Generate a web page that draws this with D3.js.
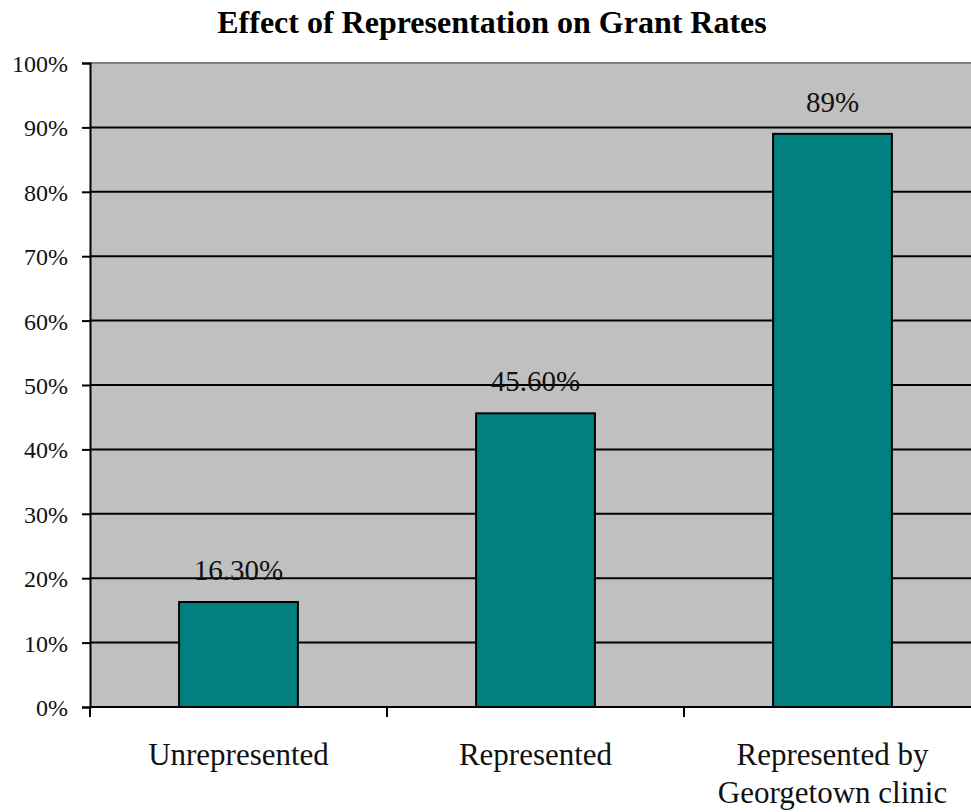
<!DOCTYPE html>
<html>
<head>
<meta charset="utf-8">
<script src="https://cdn.jsdelivr.net/npm/d3@7"></script>
<style>
  body { margin: 0; background: #fff; }
  svg { display: block; font-family: "Liberation Serif", "Times New Roman", serif; }
</style>
</head>
<body>
<svg></svg>
<script>
let categories = [["Unrepresented"], ["Represented"], ["Represented by", "Georgetown clinic"]]
let values = [0.163, 0.456, 0.89]
let valueLabels = ["16.30%", "45.60%", "89%"]
let yTicks = [0, 0.1, 0.2, 0.3, 0.4, 0.5, 0.6, 0.7, 0.8, 0.9, 1.0]
let title = "Effect of Representation on Grant Rates"

let width = 971
let height = 812
let plotLeft = 90, plotTop = 63, plotBottom = 707, plotRight = 981
let serif = '"Liberation Serif", "Times New Roman", serif'

let svg = d3.select('svg').attr('width', width).attr('height', height)

let keys = categories.map((c) => c.join(' '))

let xBand = d3.scaleBand().domain(keys).range([plotLeft, plotRight]).paddingInner(0).paddingOuter(0)
let xBar = d3.scaleBand().domain(keys).range([plotLeft, plotRight]).paddingInner(0.6).paddingOuter(0.3)
let yScale = d3.scaleLinear().domain([0, 1]).range([plotBottom, plotTop])

// plot background
svg.append('rect')
    .attr('x', plotLeft).attr('y', plotTop)
    .attr('width', plotRight - plotLeft).attr('height', plotBottom - plotTop)
    .attr('fill', '#c0c0c0')

// grid lines
svg.append('g')
    .selectAll('line')
    .data(yTicks.filter((t) => t > 0 && t < 1))
    .enter()
    .append('line')
    .attr('x1', plotLeft).attr('x2', plotRight)
    .attr('y1', (d) => yScale(d)).attr('y2', (d) => yScale(d))
    .attr('stroke', '#000').attr('stroke-width', 2)

// top border
svg.append('line')
    .attr('x1', plotLeft).attr('x2', plotRight)
    .attr('y1', yScale(1)).attr('y2', yScale(1))
    .attr('stroke', '#808080').attr('stroke-width', 2)

// bars
svg.append('g')
    .selectAll('rect')
    .data(values)
    .enter()
    .append('rect')
    .attr('x', (d, i) => xBar(keys[i]))
    .attr('width', xBar.bandwidth())
    .attr('y', (d) => yScale(d))
    .attr('height', (d) => yScale(0) - yScale(d))
    .attr('fill', '#008080')
    .attr('stroke', '#000').attr('stroke-width', 2)

// value labels
svg.append('g')
    .selectAll('text')
    .data(values)
    .enter()
    .append('text')
    .attr('x', (d, i) => xBar(keys[i]) + xBar.bandwidth() / 2)
    .attr('y', (d) => yScale(d) - 22)
    .attr('text-anchor', 'middle')
    .attr('font-family', serif)
    .attr('font-size', 29)
    .attr('fill', '#111')
    .text((d, i) => valueLabels[i])

// y axis
let yAxis = d3.axisLeft(yScale)
    .tickValues(yTicks)
    .tickFormat(d3.format('.0%'))
    .tickSize(8)
    .tickPadding(14)
let yG = svg.append('g')
    .attr('transform', 'translate(' + plotLeft + ',0)')
    .call(yAxis)
    .attr('font-family', serif)
    .attr('font-size', 24)
yG.select('.domain').attr('stroke', '#000').attr('stroke-width', 2)
yG.selectAll('.tick line').attr('stroke', '#000').attr('stroke-width', 2)
yG.selectAll('.tick text')
    .attr('fill', '#111')
    .attr('dy', '0.35em')

// x axis line and category ticks
svg.append('line')
    .attr('x1', plotLeft).attr('x2', plotRight)
    .attr('y1', plotBottom).attr('y2', plotBottom)
    .attr('stroke', '#000').attr('stroke-width', 2)

svg.append('g')
    .selectAll('line')
    .data(keys.map((k) => xBand(k)).concat([plotRight]))
    .enter()
    .append('line')
    .attr('x1', (d) => d).attr('x2', (d) => d)
    .attr('y1', plotBottom).attr('y2', plotBottom + 10)
    .attr('stroke', '#000').attr('stroke-width', 2)

// category labels
let catG = svg.append('g')
categories.forEach((lines, i) => {
    let t = catG.append('text')
        .attr('x', xBand(keys[i]) + xBand.bandwidth() / 2)
        .attr('y', 765)
        .attr('text-anchor', 'middle')
        .attr('font-family', serif)
        .attr('font-size', 31)
        .attr('fill', '#111')
    lines.forEach((ln, j) => {
        t.append('tspan')
            .attr('x', xBand(keys[i]) + xBand.bandwidth() / 2)
            .attr('dy', j === 0 ? 0 : 38)
            .text(ln)
    })
})

// title
svg.append('text')
    .attr('x', 492)
    .attr('y', 33)
    .attr('text-anchor', 'middle')
    .attr('font-family', serif)
    .attr('font-size', 32)
    .attr('font-weight', 'bold')
    .attr('fill', '#000')
    .text(title)
</script>
</body>
</html>
